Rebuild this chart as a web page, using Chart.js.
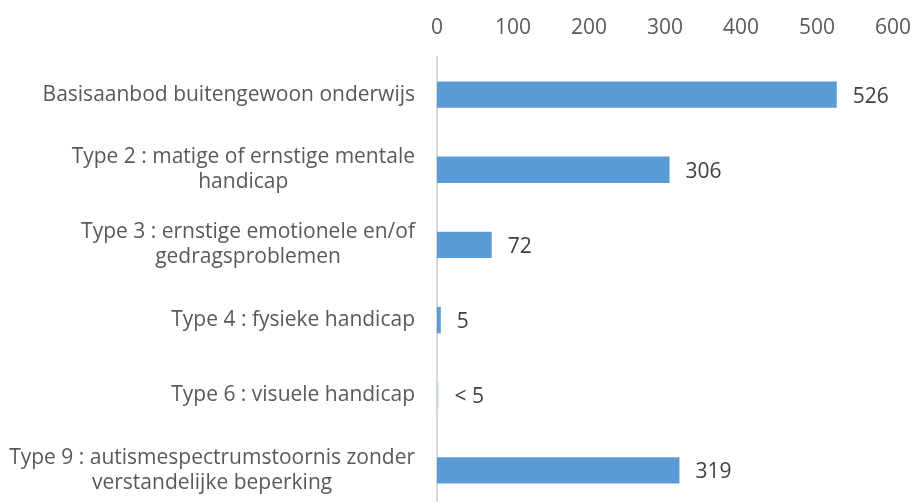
<!DOCTYPE html>
<html>
<head>
<meta charset="utf-8">
<script src="https://cdn.jsdelivr.net/npm/chart.js@4.4.0/dist/chart.umd.min.js"></script>
<style>
  html, body { margin: 0; padding: 0; background: #fff; overflow: hidden; }
  #wrap { width: 914px; height: 508px; position: relative; }
</style>
</head>
<body>
<div id="wrap"><canvas id="chart"></canvas></div>
<script>
// categories, one array per label (lines as in the picture)
const categories = [
    ['Basisaanbod buitengewoon onderwijs'],
    ['Type 2 : matige of ernstige mentale', 'handicap'],
    ['Type 3 : ernstige emotionele en/of', 'gedragsproblemen'],
    ['Type 4 : fysieke handicap'],
    ['Type 6 : visuele handicap'],
    ['Type 9 : autismespectrumstoornis zonder', 'verstandelijke beperking']
];
const values = [526, 306, 72, 5, 2, 319];
const valueLabels = ['526', '306', '72', '5', '< 5', '319'];
const barColors = ['#5B9BD5', '#5B9BD5', '#5B9BD5', '#5B9BD5', '#BDD7EE', '#5B9BD5'];

const FONT = '"Open Sans", sans-serif';

// category labels: block right aligned, lines centred inside the block
const categoryLabels = {
    id: 'categoryLabels',
    afterDraw(chart) {
        const ctx = chart.ctx;
        const y = chart.scales.y;
        ctx.save();
        ctx.font = '21px ' + FONT;
        ctx.fillStyle = '#595959';
        ctx.textAlign = 'center';
        ctx.textBaseline = 'middle';
        const lineH = 25;
        categories.forEach((lines, i) => {
            const widest = Math.max(...lines.map(l => ctx.measureText(l).width));
            const cx = 415 - widest / 2;
            const cy = y.getPixelForValue(i);
            const top = cy - (lines.length - 1) * lineH / 2;
            lines.forEach((l, j) => ctx.fillText(l, cx, top + j * lineH));
        });
        ctx.restore();
    }
};

// value labels at the end of each bar
const valueLabelPlugin = {
    id: 'valueLabels',
    afterDatasetsDraw(chart) {
        const ctx = chart.ctx;
        const meta = chart.getDatasetMeta(0);
        ctx.save();
        ctx.font = '21px ' + FONT;
        ctx.fillStyle = '#404040';
        ctx.textAlign = 'left';
        ctx.textBaseline = 'middle';
        meta.data.forEach((bar, i) => {
            ctx.fillText(valueLabels[i], bar.x + 16, bar.y + 2);
        });
        ctx.restore();
    }
};

new Chart(document.getElementById('chart'), {
    type: 'bar',
    data: {
        labels: categories.map(c => c.join(' ')),
        datasets: [{
            data: values,
            backgroundColor: barColors,
            borderWidth: 0,
            barPercentage: 0.35,
            categoryPercentage: 1
        }]
    },
    options: {
        indexAxis: 'y',
        responsive: true,
        maintainAspectRatio: false,
        animation: false,
        layout: { padding: { left: 0, right: 21, top: 0, bottom: 0 } },
        plugins: {
            legend: { display: false },
            tooltip: { enabled: false }
        },
        scales: {
            x: {
                position: 'top',
                min: 0,
                max: 600,
                grid: { display: false },
                border: { display: false },
                ticks: {
                    stepSize: 100,
                    color: '#595959',
                    font: { family: FONT, size: 21 },
                    padding: 8
                },
                afterFit(scale) {
                    scale.height = 57;
                    scale.paddingLeft = 0;
                    scale.paddingRight = 0;
                }
            },
            y: {
                grid: { display: false },
                border: { display: true, color: '#D9D9D9', width: 2 },
                ticks: { display: false },
                afterFit(scale) { scale.width = 437; }
            }
        }
    },
    plugins: [categoryLabels, valueLabelPlugin]
});
</script>
</body>
</html>
